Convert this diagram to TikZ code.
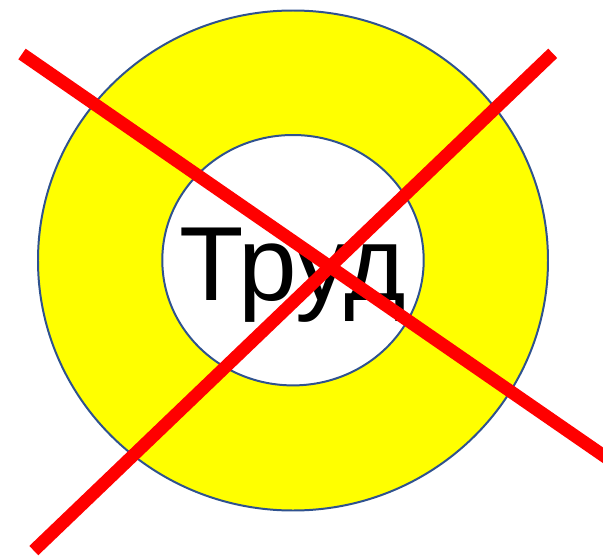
\documentclass[tikz,border=0pt]{standalone}
\usepackage{fontspec}
\setmainfont{Liberation Sans}
\usepackage{tikz}

\definecolor{ringblue}{RGB}{47,82,143}
\definecolor{ringyellow}{RGB}{255,255,0}
\definecolor{crossred}{RGB}{255,0,0}

\begin{document}
\begin{tikzpicture}[x=0.03cm, y=-0.03cm]
    \useasboundingbox (0, 0) rectangle (603, 557);
    \clip (0, 0) rectangle (603, 557);

    % yellow ring with white hole
    \filldraw[ringyellow, even odd rule] (293, 260.5) ellipse [x radius=255, y radius=250]
        (293, 260.2) ellipse [x radius=130.7, y radius=125.2];
    \draw[ringblue, line width=1.7pt] (293, 260.5) ellipse [x radius=255, y radius=250];
    \draw[ringblue, line width=1.7pt] (293, 260.2) ellipse [x radius=130.7, y radius=125.2];

    \node[anchor=base, inner sep=0pt, font=\fontsize{90}{90}\selectfont] (trud) at (293, 300) {Труд};

    % the cross
    \coordinate (a1) at (22, 54);
    \coordinate (a2) at (620, 467);
    \coordinate (b1) at (552.7, 53.3);
    \coordinate (b2) at (33.8, 550.6);
    \draw[crossred, line width=11pt] (a1) -- (a2);
    \draw[crossred, line width=11pt] (b1) -- (b2);
\end{tikzpicture}
\end{document}
